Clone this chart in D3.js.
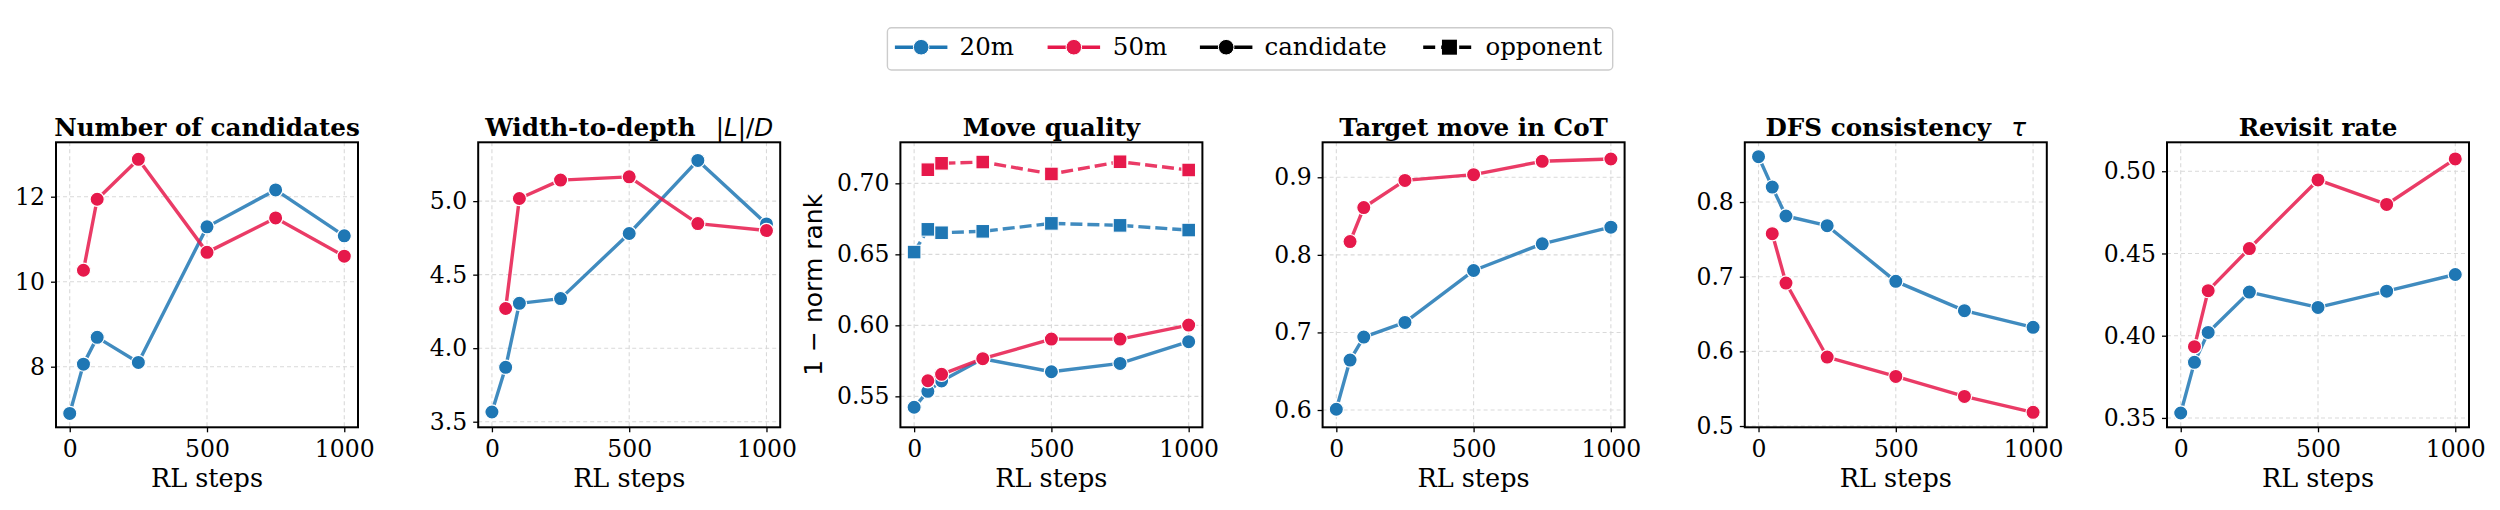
<!DOCTYPE html>
<html><head><meta charset="utf-8">
<script src="https://cdn.jsdelivr.net/npm/d3@7"></script>
<style>
html,body{margin:0;padding:0;background:#fff;}
svg{display:block;}
</style></head>
<body>
<svg id="chart" width="2500" height="510"></svg>
<script>
// ---------- DATA ----------
const steps = [0, 50, 100, 250, 500, 750, 1000];
const xTicks = [0, 500, 1000];
const panelTitles = ["Number of candidates", "Width-to-depth", "Move quality", "Target move in CoT", "DFS consistency", "Revisit rate"];
const seriesNames = ["20m", "50m"];
const legendRoles = ["candidate", "opponent"];

const candidates20m = [6.90, 8.06, 8.69, 8.10, 11.29, 12.16, 11.08];
const candidates50m = [null, 10.27, 11.94, 12.88, 10.69, 11.50, 10.60];
const widthDepth20m = [3.566, 3.87, 4.305, 4.337, 4.78, 5.277, 4.845];
const widthDepth50m = [null, 4.27, 5.018, 5.143, 5.165, 4.847, 4.80];
const moveQualCand20m = [0.5423, 0.5535, 0.5608, 0.5765, 0.5673, 0.5732, 0.5885];
const moveQualCand50m = [null, 0.561, 0.5655, 0.5765, 0.5903, 0.5903, 0.6002];
const moveQualOpp20m = [0.6516, 0.6676, 0.6652, 0.6662, 0.6718, 0.6704, 0.6671];
const moveQualOpp50m = [null, 0.7096, 0.7141, 0.715, 0.7066, 0.7152, 0.7094];
const targetCoT20m = [0.601, 0.6644, 0.694, 0.7129, 0.7798, 0.8142, 0.8357];
const targetCoT50m = [null, 0.8171, 0.861, 0.896, 0.9034, 0.9206, 0.9236];
const dfsTau20m = [0.8607, 0.820, 0.7813, 0.7683, 0.6938, 0.6545, 0.6322];
const dfsTau50m = [null, 0.7576, 0.6915, 0.5924, 0.5665, 0.5397, 0.5183];
const revisit20m = [0.353, 0.3838, 0.402, 0.4265, 0.4172, 0.4271, 0.4372];
const revisit50m = [null, 0.3933, 0.4274, 0.453, 0.4947, 0.4798, 0.5075];

const yTicks1 = [8, 10, 12];
const yTicks2 = [3.5, 4.0, 4.5, 5.0];
const yTicks3 = [0.55, 0.60, 0.65, 0.70];
const yTicks4 = [0.6, 0.7, 0.8, 0.9];
const yTicks5 = [0.5, 0.6, 0.7, 0.8];
const yTicks6 = [0.35, 0.40, 0.45, 0.50];
const yLimits = [[6.574, 13.28], [3.462, 5.40], [0.5282, 0.7289], [0.5777, 0.9451], [0.4983, 0.880], [0.3443, 0.5176]];

// ---------- STYLE ----------
const COLORS = {"20m": "#1f77b4", "50m": "#e6194b"};
const SERIF = "'DejaVu Serif', serif";
const SANS = "'DejaVu Sans', sans-serif";

const panels = [
  {title: panelTitles[0], yTicks: yTicks1, fmt: d3.format("d"), series: [
    {name: "20m", role: "candidate", values: candidates20m},
    {name: "50m", role: "candidate", values: candidates50m}]},
  {title: panelTitles[1], math: "L/D", yTicks: yTicks2, fmt: d3.format(".1f"), series: [
    {name: "20m", role: "candidate", values: widthDepth20m},
    {name: "50m", role: "candidate", values: widthDepth50m}]},
  {title: panelTitles[2], ylabel: "1 \u2212 norm rank", yTicks: yTicks3, fmt: d3.format(".2f"), series: [
    {name: "20m", role: "candidate", values: moveQualCand20m},
    {name: "50m", role: "candidate", values: moveQualCand50m},
    {name: "20m", role: "opponent", values: moveQualOpp20m},
    {name: "50m", role: "opponent", values: moveQualOpp50m}]},
  {title: panelTitles[3], yTicks: yTicks4, fmt: d3.format(".1f"), series: [
    {name: "20m", role: "candidate", values: targetCoT20m},
    {name: "50m", role: "candidate", values: targetCoT50m}]},
  {title: panelTitles[4], math: "tau", yTicks: yTicks5, fmt: d3.format(".1f"), series: [
    {name: "20m", role: "candidate", values: dfsTau20m},
    {name: "50m", role: "candidate", values: dfsTau50m}]},
  {title: panelTitles[5], yTicks: yTicks6, fmt: d3.format(".2f"), series: [
    {name: "20m", role: "candidate", values: revisit20m},
    {name: "50m", role: "candidate", values: revisit50m}]}
];

const svg = d3.select("#chart");
const axTop = 142.3, axBottom = 427.3, axW = 302, axStep = 422.2, axLeft0 = 56;

panels.forEach((p, i) => {
  const left = axLeft0 + i * axStep;
  const x = d3.scaleLinear().domain([-50, 1050]).range([left, left + axW]);
  const y = d3.scaleLinear().domain(yLimits[i]).range([axBottom, axTop]);
  const g = svg.append("g");

  // grid
  g.append("g").selectAll("line").data(xTicks).join("line")
    .attr("x1", d => x(d)).attr("x2", d => x(d)).attr("y1", axTop).attr("y2", axBottom)
    .attr("stroke", "#d9d9d9").attr("stroke-width", 1.1).attr("stroke-dasharray", "4,3");
  g.append("g").selectAll("line").data(p.yTicks).join("line")
    .attr("x1", left).attr("x2", left + axW).attr("y1", d => y(d)).attr("y2", d => y(d))
    .attr("stroke", "#d9d9d9").attr("stroke-width", 1.1).attr("stroke-dasharray", "4,3");

  // axes
  const xAxis = d3.axisBottom(x).tickValues(xTicks).tickSize(5).tickPadding(7).tickFormat(d3.format("d"));
  const gx = g.append("g").attr("transform", `translate(0,${axBottom})`).call(xAxis);
  const yAxis = d3.axisLeft(y).tickValues(p.yTicks).tickSize(5).tickPadding(6).tickFormat(p.fmt);
  const gy = g.append("g").attr("transform", `translate(${left},0)`).call(yAxis);
  [gx, gy].forEach(a => {
    a.select(".domain").remove();
    a.selectAll(".tick line").attr("stroke", "#000").attr("stroke-width", 1.3);
    a.selectAll(".tick text").attr("font-family", SERIF).attr("font-size", 23.5).attr("fill", "#000");
  });
  gx.selectAll(".tick text").attr("dy", "0.75em");

  // series
  p.series.forEach(s => {
    const pts = steps.map((st, k) => ({x: st, y: s.values[k]})).filter(d => d.y != null);
    const line = d3.line().x(d => x(d.x)).y(d => y(d.y));
    g.append("path").datum(pts).attr("d", line)
      .attr("fill", "none").attr("stroke", COLORS[s.name]).attr("stroke-opacity", 0.85)
      .attr("stroke-width", 3.4).attr("stroke-linejoin", "round")
      .attr("stroke-dasharray", s.role === "opponent" ? "12,5" : null);
    if (s.role === "candidate") {
      g.append("g").selectAll("circle").data(pts).join("circle")
        .attr("cx", d => x(d.x)).attr("cy", d => y(d.y)).attr("r", 7.1)
        .attr("fill", COLORS[s.name]).attr("stroke", "#fff").attr("stroke-width", 1.2);
    } else {
      g.append("g").selectAll("rect").data(pts).join("rect")
        .attr("x", d => x(d.x) - 6.8).attr("y", d => y(d.y) - 6.8).attr("width", 13.6).attr("height", 13.6)
        .attr("fill", COLORS[s.name]).attr("stroke", "#fff").attr("stroke-width", 1.0);
    }
  });

  // frame
  g.append("rect").attr("x", left).attr("y", axTop).attr("width", axW).attr("height", axBottom - axTop)
    .attr("fill", "none").attr("stroke", "#000").attr("stroke-width", 2);

  // title
  const t = g.append("text").attr("x", left + axW / 2).attr("y", 135.5).attr("text-anchor", "middle")
    .attr("font-family", SERIF).attr("font-weight", "bold").attr("font-size", 24.6).attr("fill", "#000");
  t.append("tspan").text(p.title);
  if (p.math === "L/D") {
    t.append("tspan").attr("font-weight", "normal").attr("font-family", SANS).text("\u2002 |");
    t.append("tspan").attr("font-weight", "normal").attr("font-family", SANS).attr("font-style", "italic").text("L");
    t.append("tspan").attr("font-weight", "normal").attr("font-family", SANS).text("|/");
    t.append("tspan").attr("font-weight", "normal").attr("font-family", SANS).attr("font-style", "italic").text("D");
  } else if (p.math === "tau") {
    t.append("tspan").attr("font-weight", "normal").attr("font-family", SANS).attr("font-style", "italic").text("\u2002 \u03c4");
  }

  // x label
  g.append("text").attr("x", left + axW / 2).attr("y", 487).attr("text-anchor", "middle")
    .attr("font-family", SERIF).attr("font-size", 25.5).attr("fill", "#000").text("RL steps");

  if (p.ylabel) {
    g.append("text").attr("transform", `translate(${left - 78},${(axTop + axBottom) / 2}) rotate(-90)`)
      .attr("text-anchor", "middle").attr("font-family", SANS).attr("font-size", 25).attr("fill", "#000")
      .text(p.ylabel);
  }
});

// ---------- LEGEND ----------
const lg = svg.append("g").attr("transform", "translate(887.4,27.7)");
const lgW = 725.3, lgH = 42.3;
lg.append("rect").attr("x", 0).attr("y", 0).attr("width", lgW).attr("height", lgH).attr("rx", 4)
  .attr("fill", "#fff").attr("stroke", "#cccccc").attr("stroke-width", 1.4);
const legendItems = [
  {label: seriesNames[0], color: COLORS["20m"], shape: "circle", dash: null, lx: 7.5, tx: 72.2},
  {label: seriesNames[1], color: COLORS["50m"], shape: "circle", dash: null, lx: 160.2, tx: 225.4},
  {label: legendRoles[0], color: "#000", shape: "circle", dash: null, lx: 312.5, tx: 377.1},
  {label: legendRoles[1], color: "#000", shape: "square", dash: "12,6", lx: 535.8, tx: 598}
];
const cy = 19.5;
legendItems.forEach(it => {
  const x0 = it.lx, x1 = it.lx + 52.5, xm = (x0 + x1) / 2;
  lg.append("line").attr("x1", x0).attr("x2", x1).attr("y1", cy).attr("y2", cy)
    .attr("stroke", it.color).attr("stroke-width", 3.4).attr("stroke-dasharray", it.dash);
  if (it.shape === "circle") {
    lg.append("circle").attr("cx", xm).attr("cy", cy).attr("r", 7.8).attr("fill", it.color)
      .attr("stroke", "#fff").attr("stroke-width", 1);
  } else {
    lg.append("rect").attr("x", xm - 7.5).attr("y", cy - 7.5).attr("width", 15).attr("height", 15).attr("fill", it.color);
  }
  lg.append("text").attr("x", it.tx).attr("y", 27.5).attr("font-family", SERIF).attr("font-size", 24.5)
    .attr("fill", "#000").text(it.label);
});
</script>
</body></html>
